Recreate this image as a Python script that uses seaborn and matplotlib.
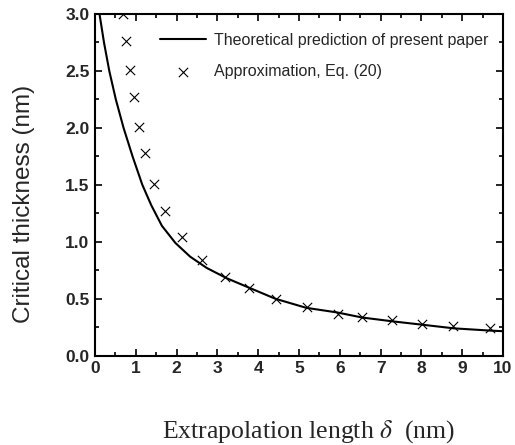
import numpy as np
import matplotlib
matplotlib.use("Agg")
import matplotlib.pyplot as plt
import pandas as pd
import seaborn as sns
from matplotlib.ticker import MultipleLocator, FormatStrFormatter

# theoretical curve
delta_teo = [0.11, 0.22, 0.35, 0.51, 0.70, 0.92, 1.16, 1.38, 1.64, 1.97, 2.33,
             2.74, 3.23, 3.69, 4.42, 5.18, 5.93, 6.55, 7.33, 8.07, 8.8, 9.7, 10.0]
h_teo = [3.0, 2.75, 2.5, 2.25, 2.0, 1.75, 1.5, 1.32, 1.14, 0.99, 0.87,
         0.77, 0.68, 0.61, 0.50, 0.42, 0.38, 0.335, 0.30, 0.27, 0.24, 0.22, 0.215]

# approximation, Eq. (20)
delta_app = [0.69, 0.76, 0.86, 0.96, 1.09, 1.23, 1.45, 1.72, 2.12, 2.63,
             3.19, 3.78, 4.44, 5.19, 5.95, 6.55, 7.29, 8.02, 8.78, 9.68]
h_app = [3.0, 2.76, 2.51, 2.27, 2.01, 1.78, 1.51, 1.27, 1.04, 0.84,
         0.69, 0.59, 0.50, 0.43, 0.37, 0.34, 0.31, 0.28, 0.26, 0.24]

etichetta_teo = "Theoretical prediction of present paper"
etichetta_app = "Approximation, Eq. (20)"

sns.set_style("ticks")
plt.rcParams['font.family'] = ['Liberation Sans', 'DejaVu Sans']
plt.rcParams['mathtext.fontset'] = 'stix'

teo = pd.DataFrame({'delta': delta_teo, 'h': h_teo})
app = pd.DataFrame({'delta': delta_app, 'h': h_app})

fig = plt.figure(figsize=(5.15, 4.45), dpi=100)
ax = fig.add_axes([0.1845, 0.2007, 0.7922, 0.7678])

sns.lineplot(data=teo, x='delta', y='h', ax=ax, color='black', linewidth=1.5,
             label=etichetta_teo)
sns.scatterplot(data=app, x='delta', y='h', ax=ax, color='black', marker='x',
                s=45, linewidth=0.8, label=etichetta_app, zorder=3)

ax.set_xlim(0, 10)
ax.set_ylim(0, 3.0)
ax.xaxis.set_major_locator(MultipleLocator(1))
ax.xaxis.set_minor_locator(MultipleLocator(0.5))
ax.yaxis.set_major_locator(MultipleLocator(0.5))
ax.yaxis.set_minor_locator(MultipleLocator(0.25))
ax.yaxis.set_major_formatter(FormatStrFormatter('%.1f'))

ax.tick_params(which='both', direction='in', top=True, right=True, width=1.2,
               color='black')
ax.tick_params(which='major', length=5, labelsize=12.5, pad=4)
ax.tick_params(which='minor', length=3)
for lab in ax.get_xticklabels() + ax.get_yticklabels():
    lab.set_fontweight('bold')

for sp in ax.spines.values():
    sp.set_linewidth(1.5)
    sp.set_color('black')

ax.set_ylabel('Critical thickness (nm)', fontsize=17.5)
ax.yaxis.set_label_coords(-0.147, 0.444)
ax.set_xlabel(r'Extrapolation length $\delta$  (nm)', fontsize=18.5,
              family='Liberation Serif')
ax.xaxis.set_label_coords(0.522, -0.184)

ax.legend(loc='upper left', bbox_to_anchor=(0.159, 0.945), frameon=False,
          fontsize=11.5, handlelength=2.9, handletextpad=0.5, labelspacing=1.0,
          borderpad=0, borderaxespad=0)

fig.savefig('out.png', dpi=100)
